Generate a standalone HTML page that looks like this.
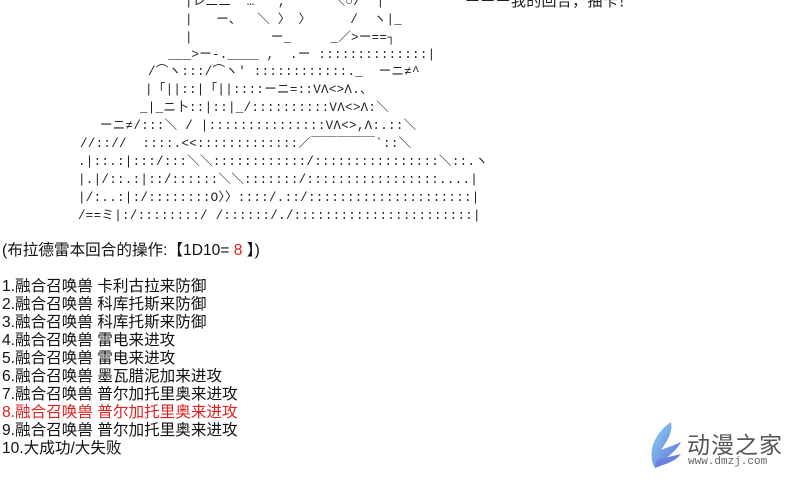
<!DOCTYPE html>
<html><head><meta charset="utf-8"><style>
html,body{margin:0;padding:0;background:#fff;width:800px;height:486px;overflow:hidden;position:relative}
.a{position:absolute;white-space:pre;font-family:"Liberation Mono","Noto Sans CJK JP",monospace;font-size:12.5px;line-height:14px;color:#222;letter-spacing:0.3px}
.t{position:absolute;left:2px;font-family:"Liberation Sans","Noto Sans CJK SC",sans-serif;font-size:15.6px;line-height:18px;color:#111;white-space:pre}
.r{color:#e02020}
</style></head><body>
<div class="a" style="left:185px;top:-5px">|レ二二  …   ,      ＼○/  |</div>
<div class="a" style="left:465px;top:-5px;font-family:'Liberation Sans','Noto Sans CJK SC',sans-serif;font-size:15px">ーーー我的回合，抽卡！</div>
<div class="a" style="left:185px;top:13px">|   ー、  ＼ 〉 〉     /  ヽ|_</div>
<div class="a" style="left:185px;top:31px">|          ー_     _／>ー==┐</div>
<div class="a" style="left:168px;top:48px">___>ー-.____ ,  .ー ::::::::::::::|</div>
<div class="a" style="left:148px;top:65px">/⌒ヽ:::/⌒ヽ' ::::::::::::._  ーニ≠^</div>
<div class="a" style="left:145px;top:83px">|「||::|「||::::ーニ=::VΛ<>Λ.、</div>
<div class="a" style="left:140px;top:101px">_|_ニ卜::|::|_/::::::::::VΛ<>Λ:＼</div>
<div class="a" style="left:100px;top:119px">ーニ≠/:::＼ / |:::::::::::::::VΛ<>,Λ:.::＼</div>
<div class="a" style="left:80px;top:137px">//:://  ::::.<<:::::::::::::／￣￣￣￣￣`::＼</div>
<div class="a" style="left:78px;top:155px">.|::.:|:::/:::＼＼::::::::::::/::::::::::::::::＼::.ヽ</div>
<div class="a" style="left:78px;top:173px">|.|/::.:|::/::::::＼＼:::::::/:::::::::::::::::....|</div>
<div class="a" style="left:78px;top:191px">|/:..:|:/::::::::O〉〉::::/.::/:::::::::::::::::::::|</div>
<div class="a" style="left:78px;top:209px">/==ミ|:/::::::::/ /::::::/./:::::::::::::::::::::::|</div>
<div class="t" style="top:242px">(布拉德雷本回合的操作:【1D10= <span class="r">8</span> 】)</div>
<div class="t" style="top:278px">1.融合召唤兽 卡利古拉来防御
2.融合召唤兽 科库托斯来防御
3.融合召唤兽 科库托斯来防御
4.融合召唤兽 雷电来进攻
5.融合召唤兽 雷电来进攻
6.融合召唤兽 墨瓦腊泥加来进攻
7.融合召唤兽 普尔加托里奥来进攻
<span class="r">8.融合召唤兽 普尔加托里奥来进攻</span>
9.融合召唤兽 普尔加托里奥来进攻
10.大成功/大失败</div>
<svg style="position:absolute;left:645px;top:420px" width="40" height="55" viewBox="0 0 40 55">
<defs><linearGradient id="g" x1="0" y1="0" x2="1" y2="1"><stop offset="0" stop-color="#8fd3f0"/><stop offset="1" stop-color="#5a6fd8"/></linearGradient></defs>
<path d="M26 2 C8 14 2 34 10 48 C16 40 30 34 36 22 C28 26 20 28 16 30 C22 22 28 12 26 2Z" fill="url(#g)"/>
<path d="M10 48 C20 44 30 42 36 34 C28 36 18 38 12 40Z" fill="#6b80e0"/>
</svg>
<div style="position:absolute;left:687px;top:426px;font-family:'Noto Sans CJK SC',sans-serif;font-size:23px;color:#555;letter-spacing:1px">动漫之家</div>
<div style="position:absolute;left:688px;top:456px;font-family:'Liberation Mono',monospace;font-size:11px;color:#666">www.dmzj.com</div>
</body></html>
